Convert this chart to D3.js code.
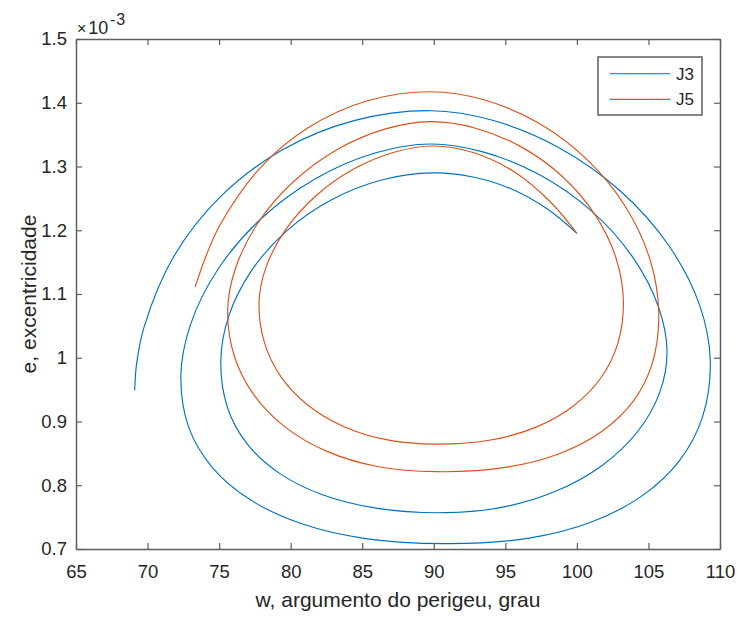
<!DOCTYPE html>
<html><head><meta charset="utf-8">
<script src="https://cdn.jsdelivr.net/npm/d3@7"></script>
<style>
body{margin:0;background:#fff}
svg{display:block}
text{font-family:"Liberation Sans",Arial,Helvetica,sans-serif;fill:#262626}
</style>
</head><body>
<svg id="c" width="739" height="617"></svg>
<script>
// ---- data (e values are in units of 1e-3) ----
const xTicks = [65,70,75,80,85,90,95,100,105,110];
const yTicks = [0.7,0.8,0.9,1.0,1.1,1.2,1.3,1.4,1.5];
const yTickLabels = ["0.7","0.8","0.9","1","1.1","1.2","1.3","1.4","1.5"];
const xLabel = "w, argumento do perigeu, grau";
const yLabel = "e, excentricidade";
const seriesNames = ["J3","J5"];
const seriesColors = ["#0072BD","#D95319"];

const j3W = [100.0, 97.97,95.44,92.73, 89.9,
  86.42,82.86,79.70,77.23,75.66, 75.12,
  75.59,76.96,79.2,82.22,85.96, 90.8,
  94.81,98.55,101.76,104.22,105.77, 106.3,
  105.67,103.84,100.99,97.39,93.43, 89.8,
  85.95,81.76,77.95,74.93,73.0, 72.33,
  72.88,74.53,77.19,80.78,85.24, 91.0,
  96.65,101.02,104.55,107.17,108.78, 109.32,
  108.58,106.42,103.04,98.78,94.1, 89.8,
  84.43,79.43,75.13,71.83,69.76,69.23, 69.1];
const j3E = [1.195, 1.2328,1.2647,1.2836, 1.290,
  1.2793,1.2479,1.1986,1.1355,1.0645, 0.995,
  0.9216,0.8648,0.819,0.785,0.7641, 0.757,
  0.7656,0.7909,0.8311,0.8835,0.9445, 1.010,
  1.0816,1.1597,1.2307,1.2869,1.3229, 1.3353,
  1.3215,1.2812,1.2184,1.1392,1.052, 0.972,
  0.8907,0.8278,0.7771,0.7395,0.7163, 0.7085,
  0.717,0.7423,0.7833,0.8387,0.9073, 0.996,
  1.0822,1.1761,1.2616,1.3292,1.3726, 1.3875,
  1.3719,1.3262,1.2535,1.1588,1.0484,0.9897, 0.949];

const j5W = [100.0, 98.27,95.7,92.8, 89.97,
  87.29,84.37,81.71,79.6,78.25, 77.79,
  78.18,79.34,81.21,83.69,86.67, 90.2,
  94.07,97.19,99.75,101.67,102.85, 103.25,
  102.76,101.32,99.06,96.17,92.92, 89.74,
  86.63,83.23,80.15,77.7,76.14, 75.6,
  76.06,77.43,79.62,82.54,86.05, 90.2,
  95.12,98.81,101.76,103.94,105.27, 105.72,
  105.14,103.44,100.77,97.35,93.5, 89.74,
  85.36,81.27,77.76,75.07,74.09, 73.32];
const j5E = [1.195, 1.2416,1.2905,1.3216, 1.3322,
  1.3228,1.2956,1.253,1.1993,1.1402, 1.086,
  1.023,0.9697,0.9255,0.8922,0.8715, 0.8645,
  0.8714,0.8916,0.9244,0.9682,1.0218, 1.088,
  1.1545,1.2225,1.2828,1.33,1.3601, 1.3703,
  1.359,1.3264,1.2753,1.2109,1.14, 1.075,
  1.0028,0.9418,0.8912,0.8531,0.8294, 0.8213,
  0.8285,0.8499,0.8848,0.932,0.9912, 1.07,
  1.1518,1.2354,1.3096,1.3678,1.4047, 1.4173,
  1.4031,1.3614,1.2951,1.2087,1.1597, 1.111];

const seriesW = [j3W, j5W];
const seriesE = [j3E, j5E];

// ---- layout ----
const m = {l:76, r:720, t:39, b:549};
const svg = d3.select("#c");
const x = d3.scaleLinear().domain([65,110]).range([m.l,m.r]);
const y = d3.scaleLinear().domain([0.7,1.5]).range([m.b,m.t]);
const axisColor = "#5e5e5e";
const tickFont = 18.5;

// plot lines
const line = d3.line().x(d=>x(d[0])).y(d=>y(d[1])).curve(d3.curveCatmullRom.alpha(0.5));
seriesNames.forEach((n,i)=>{
  const pts = seriesW[i].map((w,k)=>[w, seriesE[i][k]]);
  svg.append("path").datum(pts).attr("d", line)
    .attr("fill","none").attr("stroke",seriesColors[i]).attr("stroke-width",1.15)
    .attr("stroke-linejoin","round");
});

// axes
function styleAxis(g){
  g.selectAll("path.domain").attr("stroke",axisColor).attr("stroke-width",1.5);
  g.selectAll(".tick line").attr("stroke",axisColor).attr("stroke-width",1.2);
  g.selectAll(".tick text").attr("fill","#262626").style("font-size",tickFont+"px")
    .style("font-family","'Liberation Sans',Arial,sans-serif");
}
svg.append("g").attr("transform",`translate(0,${m.b})`)
  .call(d3.axisBottom(x).tickValues(xTicks).tickSizeInner(-6).tickSizeOuter(0).tickPadding(15.5).tickFormat(d3.format("d")))
  .call(styleAxis);
svg.append("g").attr("transform",`translate(0,${m.t})`)
  .call(d3.axisTop(x).tickValues(xTicks).tickSizeInner(-6).tickSizeOuter(0).tickFormat(""))
  .call(styleAxis);
svg.append("g").attr("transform",`translate(${m.l},0)`)
  .call(d3.axisLeft(y).tickValues(yTicks).tickSizeInner(-6).tickSizeOuter(0).tickPadding(9)
    .tickFormat((d,i)=>yTickLabels[i]))
  .call(styleAxis);
svg.append("g").attr("transform",`translate(${m.r},0)`)
  .call(d3.axisRight(y).tickValues(yTicks).tickSizeInner(-6).tickSizeOuter(0).tickFormat(""))
  .call(styleAxis);

// exponent label
const ex = svg.append("text").attr("x",m.l+1).attr("y",34).style("font-size","18px");
ex.append("tspan").style("font-size","16px").text("\u00D7");
ex.append("tspan").attr("dx",2).text("10");
ex.append("tspan").attr("dy",-9).attr("dx",1.5).style("font-size","16px").style("letter-spacing","1px").text("-3");

// axis labels
svg.append("text").attr("x",(m.l+m.r)/2).attr("y",607).attr("text-anchor","middle")
  .style("font-size","21px").text(xLabel);
svg.append("text").attr("transform",`translate(36,${(m.t+m.b)/2}) rotate(-90)`)
  .attr("text-anchor","middle").style("font-size","21px").text(yLabel);

// legend
const lg = svg.append("g");
lg.append("rect").attr("x",598).attr("y",57).attr("width",104).attr("height",58)
  .attr("fill","#fff").attr("stroke",axisColor).attr("stroke-width",1.5);
seriesNames.forEach((n,i)=>{
  const yy = 73.7 + i*25.6;
  lg.append("line").attr("x1",610).attr("x2",670).attr("y1",yy).attr("y2",yy)
    .attr("stroke",seriesColors[i]).attr("stroke-width",1.15);
  lg.append("text").attr("x",676).attr("y",yy+6).style("font-size","17px").text(n);
});
</script>
</body></html>
